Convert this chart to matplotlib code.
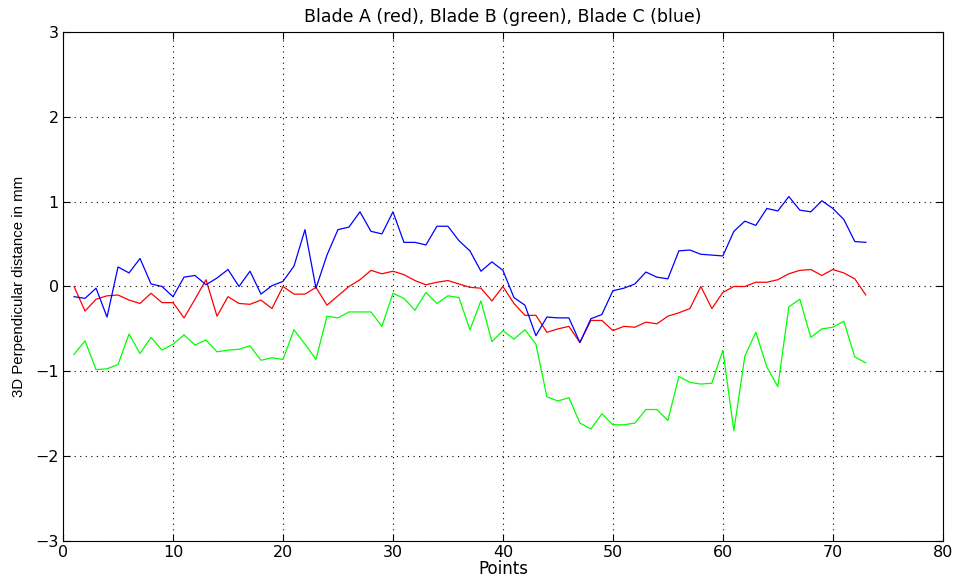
import numpy as np
import matplotlib
matplotlib.use("Agg")
import matplotlib.pyplot as plt

# ── Data (points 1..73) ────────────────────────────────────────
points = list(range(1, 74))

blade_a = [0.0, -0.29, -0.15, -0.11, -0.10, -0.16, -0.20, -0.08, -0.19, -0.19,
           -0.37, -0.15, 0.08, -0.35, -0.12, -0.20, -0.21, -0.16, -0.26, 0.0,
           -0.09, -0.09, -0.01, -0.22, -0.11, 0.0, 0.08, 0.19, 0.15, 0.18,
           0.14, 0.07, 0.02, 0.05, 0.07, 0.03, -0.01, -0.02, -0.17, 0.0,
           -0.20, -0.34, -0.34, -0.54, -0.50, -0.47, -0.66, -0.40, -0.40, -0.52,
           -0.47, -0.48, -0.42, -0.44, -0.35, -0.31, -0.26, 0.0, -0.26, -0.07,
           0.0, 0.0, 0.05, 0.05, 0.08, 0.15, 0.19, 0.20, 0.13, 0.20,
           0.16, 0.09, -0.10]

blade_b = [-0.80, -0.64, -0.98, -0.97, -0.92, -0.56, -0.79, -0.60, -0.75, -0.68,
           -0.57, -0.69, -0.63, -0.77, -0.75, -0.74, -0.70, -0.87, -0.84, -0.86,
           -0.51, -0.68, -0.86, -0.35, -0.37, -0.30, -0.30, -0.30, -0.47, -0.08,
           -0.14, -0.28, -0.07, -0.20, -0.11, -0.13, -0.51, -0.17, -0.65, -0.52,
           -0.62, -0.51, -0.68, -1.30, -1.35, -1.31, -1.61, -1.68, -1.50, -1.63,
           -1.63, -1.61, -1.45, -1.45, -1.58, -1.06, -1.13, -1.15, -1.14, -0.75,
           -1.70, -0.82, -0.54, -0.95, -1.18, -0.24, -0.15, -0.60, -0.50, -0.48,
           -0.41, -0.83, -0.90]

blade_c = [-0.12, -0.14, -0.02, -0.36, 0.23, 0.16, 0.33, 0.03, 0.0, -0.12,
           0.11, 0.13, 0.02, 0.10, 0.20, 0.0, 0.18, -0.09, 0.01, 0.06,
           0.24, 0.67, -0.02, 0.37, 0.67, 0.70, 0.88, 0.65, 0.62, 0.88,
           0.52, 0.52, 0.49, 0.71, 0.71, 0.54, 0.42, 0.18, 0.29, 0.19,
           -0.13, -0.22, -0.58, -0.36, -0.37, -0.37, -0.66, -0.38, -0.33, -0.05,
           -0.02, 0.03, 0.17, 0.11, 0.09, 0.42, 0.43, 0.38, 0.37, 0.36,
           0.65, 0.77, 0.72, 0.92, 0.89, 1.06, 0.90, 0.88, 1.01, 0.92,
           0.79, 0.53, 0.52]

# the reference text is wide and light, DejaVu gets closest
plt.rcParams.update({
    "font.family": ["DejaVu Sans"],
    "font.size": 11,
    "axes.linewidth": 0.8,
})

fig = plt.figure(figsize=(9.64, 5.81), dpi=100)
ax = fig.add_axes([0.0654, 0.0688, 0.9126, 0.8762])

ax.plot(points, blade_a, color="#ff0000", linewidth=0.9)
ax.plot(points, blade_b, color="#00ff00", linewidth=0.9)
ax.plot(points, blade_c, color="#0000ff", linewidth=0.9)

ax.set_xlim(0, 80)
ax.set_ylim(-3, 3)
ax.set_xticks(np.arange(0, 81, 10))
ax.set_yticks(np.arange(-3, 4, 1))
ax.grid(True, color="black", linestyle=(0, (1, 4)), linewidth=0.8)
ax.tick_params(direction="in", top=True, right=True, length=5, width=0.8,
               labelsize=11.5, pad=3)

ax.set_title("Blade A (red), Blade B (green), Blade C (blue)",
             fontsize=12.5, pad=7)
ax.set_xlabel("Points", fontsize=12, labelpad=0)
# vertical label is narrower in the reference, Liberation fits it better
ax.set_ylabel("3D Perpendicular distance in mm", fontsize=10.8,
              family=["Liberation Sans", "DejaVu Sans"], labelpad=7)

fig.savefig("out.png", dpi=100)
